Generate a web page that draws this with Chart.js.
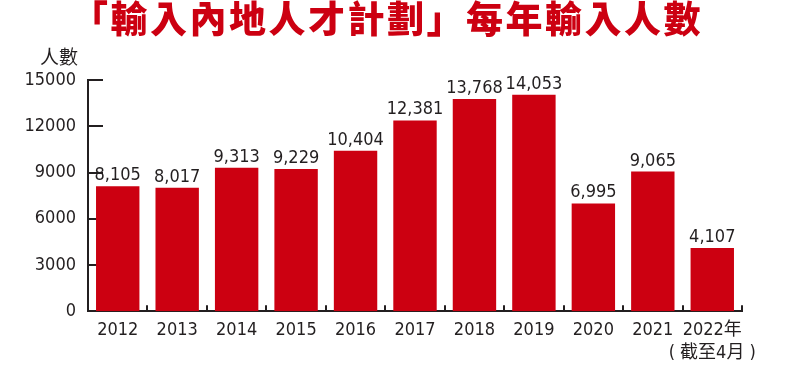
<!DOCTYPE html>
<html>
<head>
<meta charset="utf-8">
<script src="https://cdn.jsdelivr.net/npm/chart.js@4.4.0/dist/chart.umd.min.js"></script>
<style>
  html, body { margin: 0; padding: 0; background: #fff; }
  #wrap { width: 800px; height: 375px; }
</style>
</head>
<body>
<div id="wrap"><canvas id="chart"></canvas></div>
<script>
// ── Data ────────────────────────────────────────────────────────────────
const YEARS    = ['2012', '2013', '2014', '2015', '2016', '2017',
                  '2018', '2019', '2020', '2021', ['2022年', '( 截至4月 )']];
const ADMITTED = [8105, 8017, 9313, 9229, 10404, 12381,
                  13768, 14053, 6995, 9065, 4107];
const Y_TICKS  = [0, 3000, 6000, 9000, 12000, 15000];
const TITLE    = '「輸入內地人才計劃」每年輸入人數';
const Y_UNIT   = '人數';

// ── Style tokens ────────────────────────────────────────────────────────
const RED    = '#cc0011';
const INK    = '#231f20';
const NARROW = '"DejaVu Sans Condensed", "Noto Sans CJK TC", sans-serif';
const CJK    = '"Noto Sans CJK TC", sans-serif';

// Title glyphs in the original are spread a little wider than the font's
// natural pitch, so wrap the title block's draw with some letter spacing.
const titleSpacing = {
  id: 'titleSpacing',
  beforeDraw(chart) {
    const t = chart.titleBlock;
    if (!t || t._spaced) return;
    const draw = t.draw.bind(t);
    t.draw = function (area) {
      const c = this.ctx;
      const prev = c.letterSpacing;
      c.letterSpacing = '2.5px';
      draw(area);
      c.letterSpacing = prev;
    };
    t._spaced = true;
  },
};

// Inward ticks on both axes, the unit label, and values above bars
const axisMarks = {
  id: 'axisMarks',
  beforeDatasetsDraw(chart) {
    const { ctx, chartArea: a, scales: { x, y } } = chart;
    ctx.save();
    ctx.strokeStyle = INK;
    ctx.lineWidth = 2;
    y.ticks.forEach(t => {
      const py = Math.round(y.getPixelForValue(t.value));
      ctx.beginPath();
      ctx.moveTo(a.left, py);
      ctx.lineTo(a.left + 15, py);
      ctx.stroke();
    });
    const n = YEARS.length;
    for (let i = 0; i < n; i++) {
      const px = i < n - 1
        ? Math.round((x.getPixelForValue(i) + x.getPixelForValue(i + 1)) / 2)
        : a.right;
      ctx.beginPath();
      ctx.moveTo(px, a.bottom);
      ctx.lineTo(px, a.bottom - 6);
      ctx.stroke();
    }
    // unit label sits above the y axis
    ctx.fillStyle = INK;
    ctx.font = '19px ' + CJK;
    ctx.textAlign = 'right';
    ctx.textBaseline = 'middle';
    ctx.fillText(Y_UNIT, a.left - 10, a.top - 23);
    ctx.restore();
  },
  afterDatasetsDraw(chart) {
    const { ctx } = chart;
    const meta = chart.getDatasetMeta(0);
    ctx.save();
    ctx.fillStyle = INK;
    ctx.font = '18px ' + NARROW;
    ctx.textAlign = 'center';
    ctx.textBaseline = 'alphabetic';
    meta.data.forEach((bar, i) => {
      ctx.fillText(ADMITTED[i].toLocaleString('en-US'), bar.x, bar.y - 6);
    });
    ctx.restore();
  },
};

new Chart(document.getElementById('chart'), {
  type: 'bar',
  data: {
    labels: YEARS,
    datasets: [{
      data: ADMITTED,
      backgroundColor: RED,
      barPercentage: 0.73,
      categoryPercentage: 1,
    }],
  },
  options: {
    responsive: true,
    maintainAspectRatio: false,
    animation: false,
    layout: { padding: { left: 0, right: 26, top: 0, bottom: 3 } },
    plugins: {
      legend: { display: false },
      tooltip: { enabled: false },
      title: {
        display: true,
        text: TITLE,
        color: RED,
        font: { family: CJK, size: 37, weight: 900, lineHeight: 0.92 },
        padding: { top: 2, bottom: 44 },
      },
    },
    scales: {
      x: {
        grid: { display: false, drawTicks: false },
        border: { display: true, color: INK, width: 2 },
        ticks: {
          color: INK,
          padding: 7,
          autoSkip: false,
          maxRotation: 0,
          font: { family: NARROW, size: 18, lineHeight: 1.3 },
        },
      },
      y: {
        min: 0,
        max: 15000,
        afterBuildTicks: scale => { scale.ticks = Y_TICKS.map(v => ({ value: v })); },
        afterFit: scale => { scale.width = 88; },
        grid: { display: false, drawTicks: false },
        border: { display: true, color: INK, width: 2 },
        ticks: {
          color: INK,
          padding: 12,
          font: { family: NARROW, size: 18 },
          callback: v => String(v),
        },
      },
      // empty spacer on the right so the title centres over the whole page
      spacer: {
        type: 'linear',
        position: 'right',
        afterFit: scale => { scale.width = 32; },
        grid: { display: false },
        border: { display: false },
        ticks: { display: false },
      },
    },
  },
  plugins: [titleSpacing, axisMarks],
});
</script>
</body>
</html>
